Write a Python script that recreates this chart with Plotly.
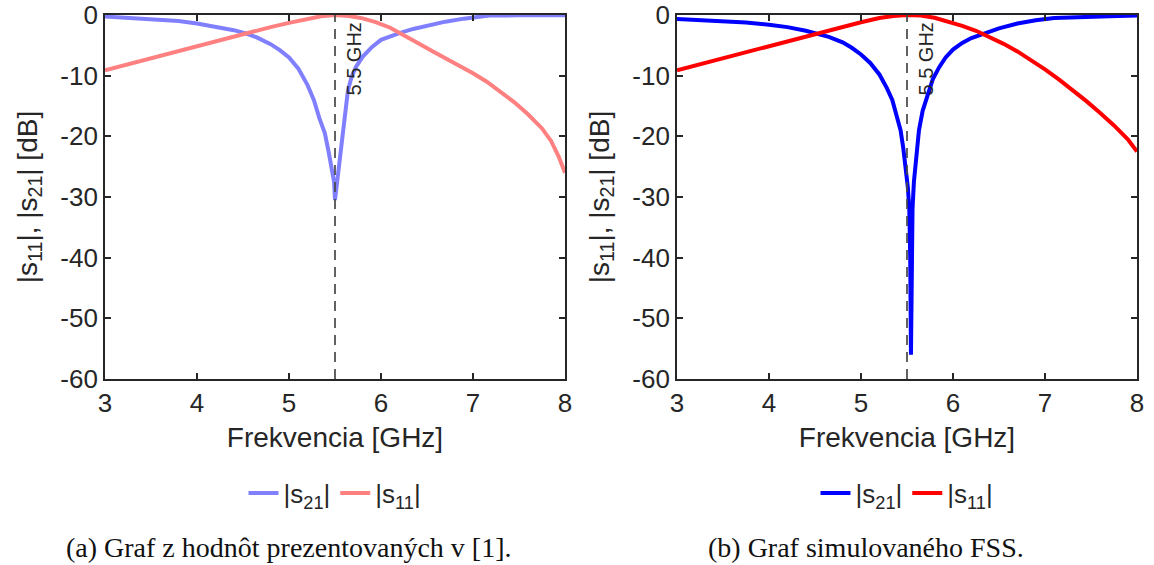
import plotly.graph_objects as go

# ---------- data (a) values presented in [1] ----------
fa_s21 = [3.0, 3.2, 3.4, 3.6, 3.8, 4.0, 4.2, 4.4, 4.52, 4.65, 4.8, 4.9, 5.0, 5.1, 5.2, 5.27,
          5.33, 5.39, 5.43, 5.46, 5.48, 5.49, 5.50, 5.515, 5.53, 5.55, 5.58, 5.61, 5.64, 5.68,
          5.73, 5.8, 5.9, 6.0, 6.1, 6.2, 6.35, 6.5, 6.7, 6.9, 7.05, 7.18, 7.5, 8.0]
sa_s21 = [-0.25, -0.4, -0.55, -0.75, -1.0, -1.4, -1.9, -2.5, -3.0, -3.7, -4.8, -5.8, -7.0, -8.8,
          -11.5, -14.0, -17.0, -19.5, -22.5, -25.5, -26.8, -27.5, -30.5, -28.5, -27.3, -24.5,
          -19.5, -15.5, -12.5, -10.2, -8.5, -6.9, -5.3, -4.1, -3.5, -3.0, -2.3, -1.75, -1.1,
          -0.6, -0.3, -0.1, -0.05, -0.05]

fa_s11 = [3.0, 3.5, 4.0, 4.5, 4.8, 5.0, 5.2, 5.35, 5.5, 5.65, 5.8, 5.95, 6.1, 6.25, 6.4, 6.55,
          6.7, 6.85, 7.0, 7.15, 7.3, 7.45, 7.6, 7.75, 7.85, 7.93, 8.0]
sa_s11 = [-9.1, -7.1, -5.1, -3.1, -2.0, -1.3, -0.6, -0.2, 0.0, -0.15, -0.55, -1.2, -2.1, -3.3,
          -4.6, -5.9, -7.1, -8.3, -9.6, -11.0, -12.6, -14.4, -16.4, -18.7, -20.8, -23.3, -26.0]

# ---------- data (b) simulated FSS ----------
fb_s21 = [3.0, 3.25, 3.5, 3.75, 4.0, 4.2, 4.4, 4.52, 4.65, 4.8, 4.9, 5.0, 5.1, 5.2, 5.28, 5.34,
          5.39, 5.43, 5.46, 5.49, 5.51, 5.525, 5.535, 5.543, 5.55, 5.56, 5.575, 5.6, 5.63, 5.67,
          5.72, 5.78, 5.85, 5.92, 6.0, 6.1, 6.2, 6.35, 6.5, 6.7, 6.9, 7.1, 7.4, 7.7, 8.0]
sb_s21 = [-0.65, -0.8, -1.0, -1.25, -1.6, -2.0, -2.6, -3.0, -3.6, -4.5, -5.4, -6.5, -7.9, -9.8,
          -12.0, -14.0, -16.5, -19.0, -22.0, -25.5, -28.5, -32.0, -40.0, -56.0, -40.0, -32.0,
          -27.5, -23.0, -19.0, -15.8, -13.2, -10.6, -8.6, -7.0, -5.7, -4.6, -3.8, -2.95, -2.2,
          -1.4, -0.85, -0.5, -0.3, -0.2, -0.1]

fb_s11 = [3.0, 3.5, 4.0, 4.5, 4.8, 5.0, 5.2, 5.35, 5.5, 5.65, 5.8, 5.95, 6.1, 6.25, 6.4, 6.55,
          6.7, 6.85, 7.0, 7.15, 7.3, 7.45, 7.6, 7.75, 7.9, 8.0]
sb_s11 = [-9.1, -7.1, -5.1, -3.1, -1.9, -1.2, -0.5, -0.15, 0.0, -0.1, -0.45, -1.05, -1.8, -2.6,
          -3.6, -4.75, -6.0, -7.4, -8.95, -10.6, -12.35, -14.2, -16.15, -18.2, -20.5, -22.5]

marker_freq = 5.5
marker_label = "5.5 GHz"
x_ticks = [3, 4, 5, 6, 7, 8]
y_ticks = [0, -10, -20, -30, -40, -50, -60]
y_tick_text = ["0", "-10", "-20", "-30", "-40", "-50", "-60"]
x_title = "Frekvencia [GHz]"
y_title = "|s<sub>11</sub>|, |s<sub>21</sub>| [dB]"
name_s21 = "|s<sub>21</sub>|"
name_s11 = "|s<sub>11</sub>|"
caption_a = "(a) Graf z hodnôt prezentovaných v [1]."
caption_b = "(b) Graf simulovaného FSS."

W, H = 1154, 565
SANS = "Liberation Sans, Arial, sans-serif"
SERIF = "Liberation Serif, DejaVu Serif, serif"
INK = "#262626"

fig = go.Figure()
fig.add_trace(go.Scatter(x=fa_s21, y=sa_s21, mode="lines", name=name_s21,
                         line=dict(color="#8080ff", width=4), xaxis="x", yaxis="y", legend="legend"))
fig.add_trace(go.Scatter(x=fa_s11, y=sa_s11, mode="lines", name=name_s11,
                         line=dict(color="#ff8080", width=4), xaxis="x", yaxis="y", legend="legend"))
fig.add_trace(go.Scatter(x=fb_s21, y=sb_s21, mode="lines", name=name_s21,
                         line=dict(color="#0000ff", width=4), xaxis="x2", yaxis="y2", legend="legend2"))
fig.add_trace(go.Scatter(x=fb_s11, y=sb_s11, mode="lines", name=name_s11,
                         line=dict(color="#ff0000", width=4), xaxis="x2", yaxis="y2", legend="legend2"))

y_bot = 1 - 379 / H
y_top = 1 - 15 / H

def xa(domain, anchor):
    return dict(domain=domain, anchor=anchor, range=[3, 8], tickvals=x_ticks, automargin=False,
                ticks="inside", ticklen=6, tickwidth=1.5, tickcolor=INK,
                showline=True, linewidth=1.8, linecolor=INK, mirror="ticks",
                showgrid=False, zeroline=False,
                tickfont=dict(family=SANS, size=26, color=INK),
                title=dict(text=x_title, font=dict(family=SANS, size=28, color=INK), standoff=10))

def ya(anchor):
    return dict(domain=[y_bot, y_top], anchor=anchor, range=[-60, 0], tickvals=y_ticks,
                ticktext=y_tick_text, automargin=False,
                ticks="inside", ticklen=6, tickwidth=1.5, tickcolor=INK,
                showline=True, linewidth=1.8, linecolor=INK, mirror="ticks",
                showgrid=False, zeroline=False,
                tickfont=dict(family=SANS, size=26, color=INK),
                title=dict(text=y_title, font=dict(family=SANS, size=28, color=INK), standoff=15))

dom_a = [105 / W, 565 / W]
dom_b = [677 / W, 1137 / W]

legend_common = dict(orientation="h", xanchor="center", yanchor="middle", y=1 - 493 / H,
                     font=dict(family=SANS, size=26, color=INK), bgcolor="rgba(0,0,0,0)",
                     itemwidth=30, tracegroupgap=0)

fig.update_layout(
    width=W, height=H, margin=dict(l=0, r=0, t=0, b=0, autoexpand=False),
    paper_bgcolor="white", plot_bgcolor="white",
    xaxis=xa(dom_a, "y"), yaxis=ya("x"),
    xaxis2=xa(dom_b, "y2"), yaxis2=ya("x2"),
    legend=dict(x=sum(dom_a) / 2, **legend_common),
    legend2=dict(x=sum(dom_b) / 2, **legend_common),
    showlegend=True,
)

for xr, yr in (("x", "y"), ("x2", "y2")):
    fig.add_shape(type="line", xref=xr, yref=yr, x0=marker_freq, x1=marker_freq, y0=-60, y1=0,
                  line=dict(color="rgba(70,70,70,0.85)", width=2, dash="10px,7px"), layer="above")
    fig.add_annotation(xref=xr, yref=yr, x=marker_freq, y=0, text=marker_label, textangle=-90,
                       showarrow=False, xanchor="center", yanchor="top", xshift=18, yshift=-6,
                       font=dict(family=SANS, size=20, color=INK))

fig.add_annotation(xref="paper", yref="paper", x=0.25, y=1 - 547 / H, text=caption_a,
                   showarrow=False, xanchor="center", yanchor="middle",
                   font=dict(family=SERIF, size=28, color="#111111"))
fig.add_annotation(xref="paper", yref="paper", x=0.75, y=1 - 547 / H, text=caption_b,
                   showarrow=False, xanchor="center", yanchor="middle",
                   font=dict(family=SERIF, size=28, color="#111111"))

fig.write_html("out.html")
